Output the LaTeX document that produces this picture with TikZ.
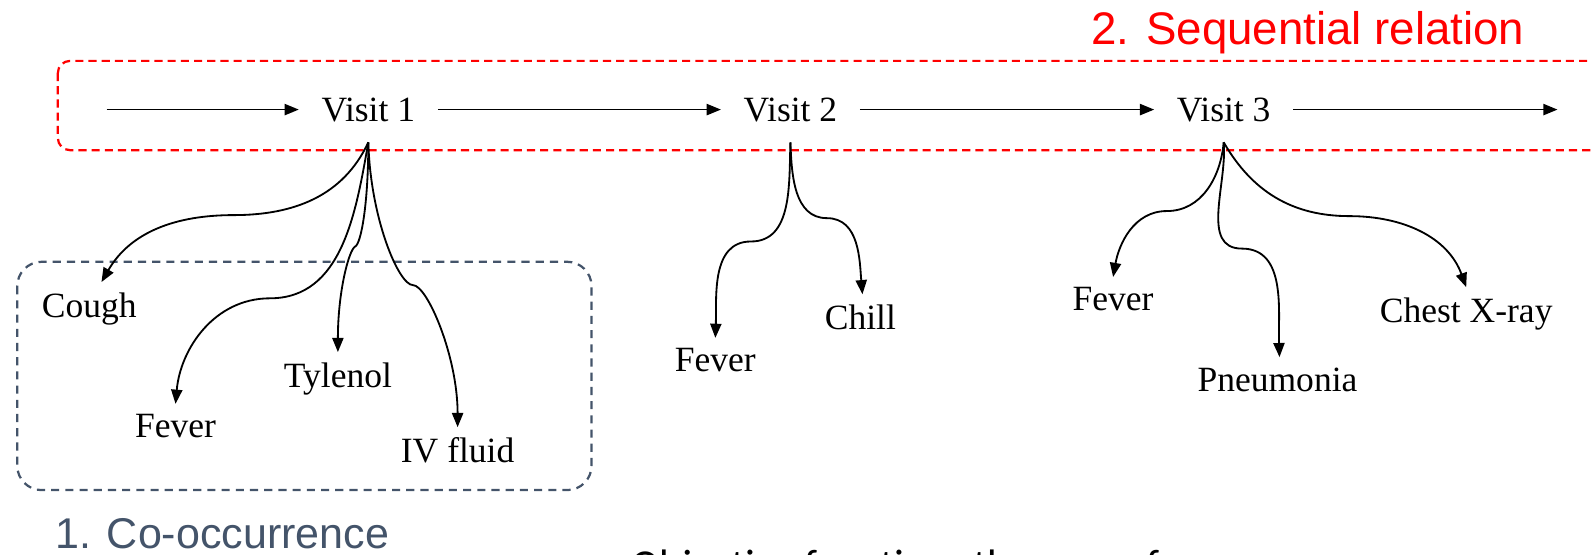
\documentclass[tikz,border=0pt]{standalone}
\usepackage{fontspec}
\setmainfont{Liberation Serif}
\newfontfamily\headfont{Liberation Sans}
\newfontfamily\objfont{Carlito}
\usetikzlibrary{arrows.meta,positioning}
\definecolor{seqred}{RGB}{255,0,0}
\definecolor{slate}{RGB}{68,84,106}
\tikzset{
  visit/.style={inner xsep=11pt, inner ysep=10pt, font=\fontsize{17.5}{20}\selectfont},
  item/.style={anchor=north, inner xsep=2pt, inner ysep=5pt, font=\fontsize{17.5}{20}\selectfont},
  link/.style={-{Triangle[length=7pt,width=5.5pt]}, line width=0.9pt},
  group/.style={line width=1.1pt, rounded corners=#1},
}

\begin{document}
\begin{tikzpicture}[x=0.5pt, y=-0.5pt]
  \useasboundingbox (0,0) rectangle (1568,546);
  \clip (0,0) rectangle (1568,546);

  % Groups
  \draw[group=6pt, seqred, dash pattern=on 4pt off 2.5pt] (57,60) rectangle (1640,148);
  \draw[group=12pt, slate, dash pattern=on 4pt off 3pt] (17,258) rectangle (583,483);
  \node[anchor=base west, inner sep=0, text=seqred, font=\headfont\fontsize{22.5}{26}\selectfont] (seqlabel) at (1075,44) {2. Sequential relation};
  \node[anchor=base west, inner sep=0, text=slate, font=\headfont\fontsize{21.2}{25}\selectfont] (coolabel) at (54,541) {1. Co-occurrence};

  % Visits
  \coordinate (start) at (105,108);
  \node[visit] (visit1) at (363,108) {Visit 1};
  \node[visit] (visit2) at (779,108) {Visit 2};
  \node[visit] (visit3) at (1206,108) {Visit 3};
  \coordinate (stop) at (1535,108);

  \draw[link] (start) -- (visit1);
  \draw[link] (visit1) -- (visit2);
  \draw[link] (visit2) -- (visit3);
  \draw[link] (visit3) -- (stop);

  % Codes of visit 1
  \node[item] (cough) at (88,278) {Cough};
  \node[item] (fever1) at (173,398) {Fever};
  \node[item] (tylenol) at (333,347) {Tylenol};
  \node[item] (ivfluid) at (451,421) {IV fluid};
  \coordinate (bendcough) at (230,212);
  \coordinate (bendfever1) at (266,294);
  \coordinate (bendtylenol) at (350,243);
  \coordinate (bendivfluid) at (407,281);

  \draw[link] (visit1.south) to[out=-115, in=0] (bendcough) to[out=180, in=60] ([xshift=6pt]cough.north);
  \draw[link] (visit1.south) to[out=-100, in=0] (bendfever1) to[out=180, in=85] (fever1.north);
  \draw[link] (visit1.south) .. controls +(0,60) and +(6,-3) .. (bendtylenol)
                             .. controls +(-6,3) and +(0,-60) .. (tylenol.north);
  \draw[link] (visit1.south) .. controls +(2,75) and +(-14,0) .. (bendivfluid)
                             .. controls +(14,0) and +(0,-70) .. (ivfluid.north);

  % Codes of visit 2
  \node[item] (fever2) at (705,333) {Fever};
  \node[item] (chill) at (848,290) {Chill};
  \coordinate (bendfever2) at (740,238);
  \coordinate (bendchill) at (815,215);

  \draw[link] (visit2.south) to[out=-92, in=0] (bendfever2) to[out=180, in=88] (fever2.north);
  \draw[link] (visit2.south) to[out=-88, in=180] (bendchill) to[out=0, in=95] ([xshift=1pt]chill.north);

  % Codes of visit 3
  \node[item] (fever3) at (1097,273) {Fever};
  \node[item] (pneumonia) at (1259,352) {Pneumonia};
  \node[item] (xray) at (1445,283) {Chest X-ray};
  \coordinate (bendfever3) at (1150,208);
  \coordinate (bendpneumonia) at (1224,245);
  \coordinate (bendxray) at (1330,213);

  \draw[link] (visit3.south) to[out=-95, in=0] (bendfever3) to[out=180, in=80] (fever3.north);
  \draw[link] (visit3.south) to[out=-85, in=180] (bendpneumonia) to[out=0, in=92] ([xshift=1pt]pneumonia.north);
  \draw[link] (visit3.south) to[out=-60, in=180] (bendxray) to[out=0, in=110] (xray.north);

  % Objective, cut by the lower edge
  \node[anchor=base west, inner sep=0, font=\objfont\fontsize{21}{24}\selectfont] (objective) at (622,571) {Objective function: the sum of};
\end{tikzpicture}
\end{document}
